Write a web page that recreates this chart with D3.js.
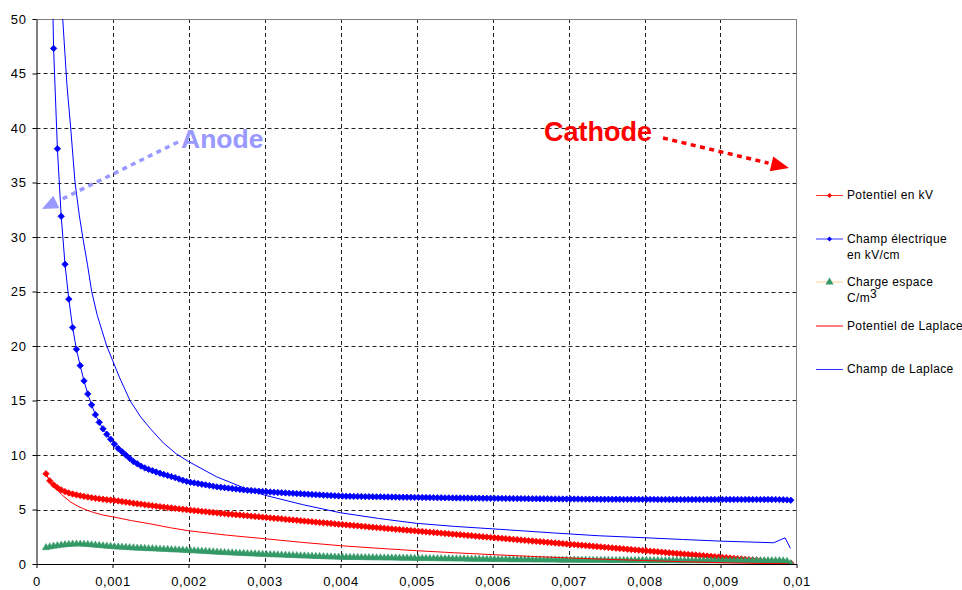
<!DOCTYPE html>
<html>
<head>
<meta charset="utf-8">
<script src="https://cdn.jsdelivr.net/npm/d3@7"></script>
<style>
  html, body { margin: 0; padding: 0; background: #ffffff; }
  svg { display: block; font-family: "Liberation Sans", Arial, sans-serif; }
</style>
</head>
<body>
<svg id="chart" width="962" height="590"></svg>
<script>
// ---------------- DATA ----------------
const positions = [
  0.000125,0.000175,0.000225,0.000275,0.000325,0.000375,0.000425,0.000475,0.000525,0.000575,
  0.000625,0.000675,0.000725,0.000775,0.000825,0.000875,0.000925,0.000975,0.001025,0.001075,
  0.001125,0.001175,0.001225,0.001275,0.001325,0.001375,0.001425,0.001475,0.001525,0.001575,
  0.001625,0.001675,0.001725,0.001775,0.001825,0.001875,0.001925,0.001975,0.002025,0.002075,
  0.002125,0.002175,0.002225,0.002275,0.002325,0.002375,0.002425,0.002475,0.002525,0.002575,
  0.002625,0.002675,0.002725,0.002775,0.002825,0.002875,0.002925,0.002975,0.003025,0.003075,
  0.003125,0.003175,0.003225,0.003275,0.003325,0.003375,0.003425,0.003475,0.003525,0.003575,
  0.003625,0.003675,0.003725,0.003775,0.003825,0.003875,0.003925,0.003975,0.004025,0.004075,
  0.004125,0.004175,0.004225,0.004275,0.004325,0.004375,0.004425,0.004475,0.004525,0.004575,
  0.004625,0.004675,0.004725,0.004775,0.004825,0.004875,0.004925,0.004975,0.005025,0.005075,
  0.005125,0.005175,0.005225,0.005275,0.005325,0.005375,0.005425,0.005475,0.005525,0.005575,
  0.005625,0.005675,0.005725,0.005775,0.005825,0.005875,0.005925,0.005975,0.006025,0.006075,
  0.006125,0.006175,0.006225,0.006275,0.006325,0.006375,0.006425,0.006475,0.006525,0.006575,
  0.006625,0.006675,0.006725,0.006775,0.006825,0.006875,0.006925,0.006975,0.007025,0.007075,
  0.007125,0.007175,0.007225,0.007275,0.007325,0.007375,0.007425,0.007475,0.007525,0.007575,
  0.007625,0.007675,0.007725,0.007775,0.007825,0.007875,0.007925,0.007975,0.008025,0.008075,
  0.008125,0.008175,0.008225,0.008275,0.008325,0.008375,0.008425,0.008475,0.008525,0.008575,
  0.008625,0.008675,0.008725,0.008775,0.008825,0.008875,0.008925,0.008975,0.009025,0.009075,
  0.009125,0.009175,0.009225,0.009275,0.009325,0.009375,0.009425,0.009475,0.009525,0.009575,
  0.009625,0.009675,0.009725,0.009775,0.009825,0.009875,0.009925
];

const potentielKV = [
  8.28,7.63,7.26,7.0,6.8,6.64,6.52,6.42,6.34,6.27,6.2,6.14,6.08,6.03,5.98,5.94,5.9,5.87,
  5.83,5.78,5.73,5.68,5.63,5.58,5.53,5.49,5.44,5.40,5.35,5.31,5.26,5.22,5.18,5.14,5.10,5.06,5.02,4.98,4.94,
  4.9,4.87,4.83,4.8,4.76,4.73,4.69,4.66,4.62,4.59,4.56,4.52,4.49,4.46,4.43,4.39,4.36,4.33,4.3,4.27,
  4.23,4.2,4.17,4.14,4.1,4.07,4.04,4.01,3.97,3.94,3.91,3.88,3.84,3.81,3.78,3.75,3.72,3.68,3.65,3.62,
  3.59,3.56,3.53,3.5,3.47,3.44,3.4,3.37,3.34,3.31,3.28,3.25,3.22,3.19,3.16,3.13,3.1,3.07,3.04,3.01,
  2.98,2.95,2.92,2.89,2.86,2.83,2.8,2.77,2.74,2.71,2.68,2.65,2.62,2.59,2.56,2.53,2.5,2.47,2.44,2.41,
  2.38,2.35,2.32,2.29,2.26,2.23,2.2,2.17,2.14,2.11,2.08,2.05,2.02,1.99,1.96,1.93,1.9,1.87,1.84,1.81,
  1.78,1.75,1.72,1.69,1.66,1.63,1.60,1.57,1.54,1.51,1.48,1.45,1.42,1.39,1.36,1.33,1.30,1.27,1.24,1.21,
  1.18,1.15,1.12,1.09,1.06,1.03,1.00,0.97,0.94,0.91,0.88,0.85,0.82,0.79,0.76,0.73,0.70,0.67,0.64,0.61,
  0.58,0.55,0.52,0.49,0.46,0.43,0.40,0.37,0.34,0.31,0.28,0.25,0.22,0.19,0.16,0.13,0.10,0.07
];

const champKVcm = [
  95,66,47.3,38.1,31.9,27.5,24.3,21.7,19.7,18.2,16.8,15.6,14.6,13.7,13.0,12.4,11.9,11.45,
  11.0,10.6,10.3,10.0,9.7,9.4,9.2,8.98,8.82,8.68,8.56,8.44,8.33,8.22,8.12,8.02,7.92,7.8,7.68,7.58,7.5,
  7.44,7.38,7.32,7.26,7.2,7.14,7.08,7.04,7.0,6.96,6.92,6.88,6.84,6.8,6.77,6.74,6.71,6.68,6.65,6.62,
  6.6,6.58,6.56,6.54,6.52,6.5,6.48,6.46,6.44,6.42,6.4,6.38,6.36,6.34,6.32,6.3,6.28,6.26,6.24,6.23,
  6.22,6.21,6.2,6.2,6.19,6.18,6.18,6.17,6.16,6.16,6.15,6.15,6.14,6.14,6.13,6.13,6.12,6.12,6.11,6.11,
  6.1,6.1,6.09,6.09,6.08,6.08,6.07,6.07,6.06,6.06,6.05,6.05,6.05,6.04,6.04,6.04,6.03,6.03,6.03,6.02,
  6.02,6.02,6.01,6.01,6.01,6.0,6.0,6.0,5.99,5.99,5.99,5.98,5.98,5.98,5.97,5.97,5.97,5.96,5.96,5.96,
  5.96,5.96,5.95,5.95,5.95,5.95,5.95,5.94,5.94,5.94,5.94,5.94,5.94,5.93,5.93,5.93,5.93,5.93,5.93,5.93,
  5.93,5.93,5.92,5.92,5.92,5.92,5.92,5.92,5.92,5.92,5.92,5.92,5.92,5.92,5.92,5.92,5.92,5.92,5.92,5.92,
  5.92,5.92,5.92,5.92,5.92,5.92,5.92,5.92,5.92,5.92,5.92,5.92,5.92,5.92,5.91,5.9,5.88,5.85
];

const chargeEspace = [
  1.55,1.62,1.68,1.73,1.78,1.82,1.85,1.87,1.88,1.88,1.86,1.84,1.81,1.78,1.75,1.72,1.69,1.66,1.63,1.61,1.59,
  1.57,1.55,1.53,1.51,1.5,1.48,1.46,1.45,1.43,1.41,1.4,1.38,1.36,1.35,1.33,1.31,1.3,1.28,
  1.26,1.24,1.22,1.2,1.18,1.16,1.14,1.12,1.1,1.08,1.07,1.05,1.03,1.02,1.0,0.98,0.97,0.95,0.94,0.92,
  0.91,0.9,0.88,0.87,0.86,0.84,0.83,0.82,0.8,0.79,0.78,0.76,0.75,0.74,0.72,0.71,0.7,0.69,0.68,0.67,
  0.66,0.66,0.65,0.65,0.64,0.64,0.63,0.63,0.62,0.62,0.61,0.61,0.6,0.6,0.59,0.59,0.58,0.58,0.57,0.57,
  0.56,0.56,0.55,0.55,0.54,0.54,0.53,0.53,0.52,0.52,0.51,0.51,0.5,0.5,0.49,0.49,0.48,0.48,0.47,0.47,
  0.46,0.46,0.46,0.45,0.45,0.45,0.44,0.44,0.44,0.43,0.43,0.43,0.42,0.42,0.42,0.42,0.41,0.41,0.41,0.41,
  0.4,0.4,0.4,0.4,0.39,0.39,0.39,0.39,0.39,0.38,0.38,0.38,0.38,0.38,0.37,0.37,0.37,0.37,0.37,0.37,
  0.36,0.36,0.36,0.36,0.36,0.36,0.36,0.35,0.35,0.35,0.35,0.35,0.35,0.35,0.35,0.35,0.35,0.35,0.35,0.35,
  0.35,0.35,0.35,0.35,0.35,0.35,0.35,0.35,0.35,0.35,0.35,0.35,0.35,0.35,0.35,0.34,0.3,0.08
];

const laplacePotX = [0.000125,0.000175,0.00025,0.00035,0.00045,0.00055,0.00065,0.00075,0.00087,0.001,
  0.00125,0.0015,0.00175,0.002,0.0025,0.003,0.0035,0.004,0.0045,0.005,0.0055,0.006,0.0065,0.007,
  0.0075,0.008,0.0085,0.009,0.0095,0.0099];
const laplacePot = [8.28,7.55,6.95,6.25,5.68,5.28,4.97,4.73,4.5,4.33,
  3.98,3.68,3.34,3.05,2.65,2.32,1.98,1.68,1.44,1.22,1.03,0.86,0.7,0.56,
  0.43,0.32,0.21,0.12,0.05,0.0];

const laplaceChampX = [0.00025,0.0003,0.000345,0.0004,0.00045,0.000507,0.000563,0.000608,0.00067,0.000726,
  0.0008,0.000924,0.001,0.00109,0.00123,0.00137,0.0015,0.00167,0.00184,0.002,0.00237,0.0028,0.003,0.0035,0.004,0.0045,
  0.005,0.0055,0.0061,0.0068,0.0074,0.008,0.0085,0.009,0.0097,0.00985,0.00992];
const laplaceChamp = [70,58,50,44,40,35,32,30,27.5,25,
  22.8,20,18.7,17.15,15.0,13.5,12.4,11.1,10.1,9.4,8.0,6.78,6.32,5.45,4.7,4.18,
  3.73,3.45,3.18,2.85,2.59,2.41,2.25,2.1,1.95,2.4,1.44];

const xTickValues = [0,0.001,0.002,0.003,0.004,0.005,0.006,0.007,0.008,0.009,0.01];
const xTickLabels = ["0","0,001","0,002","0,003","0,004","0,005","0,006","0,007","0,008","0,009","0,01"];
const yTickValues = [0,5,10,15,20,25,30,35,40,45,50];
const yTickLabels = ["0","5","10","15","20","25","30","35","40","45","50"];

const legendLabels = [
  ["Potentiel en kV"],
  ["Champ électrique", "en kV/cm"],
  ["Charge espace", "C/m"],
  ["Potentiel de Laplace"],
  ["Champ de Laplace"]
];

// ---------------- CHART ----------------
const svg = d3.select("#chart");
const X0 = 36.5, X1 = 796.5, Y0 = 564, Y1 = 19;
const x = d3.scaleLinear().domain([0, 0.01]).range([X0, X1]);
const y = d3.scaleLinear().domain([0, 50]).range([Y0, Y1]);

svg.append("rect").attr("width", 962).attr("height", 590).attr("fill", "#fff");

svg.append("defs").append("clipPath").attr("id", "plotclip")
  .append("rect").attr("x", X0).attr("y", Y1).attr("width", X1 - X0).attr("height", Y0 - Y1);

// grid
const grid = svg.append("g");
grid.selectAll("line.v").data(xTickValues.slice(1, -1)).join("line")
  .attr("x1", d => Math.round(x(d)) + 0.5).attr("x2", d => Math.round(x(d)) + 0.5)
  .attr("y1", Y1).attr("y2", Y0)
  .attr("stroke", "#222").attr("stroke-width", 1).attr("stroke-dasharray", "4,3");
grid.selectAll("line.h").data(yTickValues.slice(1, -1)).join("line")
  .attr("y1", d => Math.round(y(d)) + 0.5).attr("y2", d => Math.round(y(d)) + 0.5)
  .attr("x1", X0).attr("x2", X1)
  .attr("stroke", "#222").attr("stroke-width", 1).attr("stroke-dasharray", "4,3");
grid.append("line").attr("x1", X0).attr("x2", X1).attr("y1", Y1 + 0.5).attr("y2", Y1 + 0.5)
  .attr("stroke", "#808080");
grid.append("line").attr("x1", X1).attr("x2", X1).attr("y1", Y1).attr("y2", Y0)
  .attr("stroke", "#808080");

// axes
const yAxis = d3.axisLeft(y).tickValues(yTickValues)
  .tickFormat((d, i) => yTickLabels[i]).tickSize(4).tickSizeOuter(0).tickPadding(6);
const gy = svg.append("g").attr("transform", `translate(${X0},0)`).call(yAxis);
const xAxis = d3.axisBottom(x).tickValues(xTickValues)
  .tickFormat((d, i) => xTickLabels[i]).tickSize(4).tickSizeOuter(0).tickPadding(9);
const gx = svg.append("g").attr("transform", `translate(0,${Y0})`).call(xAxis);
[gx, gy].forEach(g => {
  g.select(".domain").attr("stroke", "#000");
  g.selectAll(".tick line").attr("stroke", "#000");
  g.selectAll(".tick text").attr("fill", "#000")
    .style("font-family", '"Liberation Sans", Arial, sans-serif')
    .style("font-size", "13px").style("letter-spacing", "0.6px");
});

// series
const plot = svg.append("g").attr("clip-path", "url(#plotclip)");
const lineGen = (xs, ys) => d3.line().x((d, i) => x(xs[i])).y(d => y(d))(ys);

const diamond = "M0,-3.2L3.2,0L0,3.2L-3.2,0Z";
const triangle = "M0,-3.6L3.6,2.6L-3.6,2.6Z";

// Potentiel en kV
plot.append("path").attr("d", lineGen(positions, potentielKV))
  .attr("fill", "none").attr("stroke", "#ff0000").attr("stroke-width", 1);
plot.append("g").selectAll("path").data(potentielKV).join("path")
  .attr("d", diamond).attr("transform", (d, i) => `translate(${x(positions[i])},${y(d)})`)
  .attr("fill", "#ff0000").attr("stroke", "#ff0000").attr("stroke-width", 0.8);

// Champ électrique
plot.append("path").attr("d", lineGen(positions, champKVcm))
  .attr("fill", "none").attr("stroke", "#0000ff").attr("stroke-width", 1);
plot.append("g").selectAll("path").data(champKVcm).join("path")
  .attr("d", diamond).attr("transform", (d, i) => `translate(${x(positions[i])},${y(d)})`)
  .attr("fill", "#0000ff").attr("stroke", "#0000ff").attr("stroke-width", 0.8);

// Charge espace
plot.append("path").attr("d", lineGen(positions, chargeEspace))
  .attr("fill", "none").attr("stroke", "#ffcc99").attr("stroke-width", 1);
plot.append("g").selectAll("path").data(chargeEspace).join("path")
  .attr("d", triangle).attr("transform", (d, i) => `translate(${x(positions[i])},${y(d)})`)
  .attr("fill", "#339966").attr("stroke", "#339966").attr("stroke-width", 0.5);

// Potentiel de Laplace
plot.append("path").attr("d", lineGen(laplacePotX, laplacePot))
  .attr("fill", "none").attr("stroke", "#ff0000").attr("stroke-width", 1);

// Champ de Laplace
plot.append("path").attr("d", lineGen(laplaceChampX, laplaceChamp))
  .attr("fill", "none").attr("stroke", "#0000ff").attr("stroke-width", 1);

// legend
const legend = svg.append("g").style("font-family", '"Liberation Sans", Arial, sans-serif')
  .style("font-size", "12px").style("letter-spacing", "0.37px");
const legendY = [195, 238.5, 281.5, 325.5, 369];
const legendStroke = ["#ff3333", "#3333ff", "#ffcc99", "#ff0000", "#3333ff"];
legendLabels.forEach((lines, i) => {
  const g = legend.append("g").attr("transform", `translate(0,${legendY[i]})`);
  g.append("line").attr("x1", 816).attr("x2", 843).attr("y1", 0.5).attr("y2", 0.5)
    .attr("stroke", legendStroke[i]).attr("stroke-width", 1);
  if (i === 0) g.append("path").attr("d", "M0,-2.5L2.5,0L0,2.5L-2.5,0Z").attr("transform", "translate(829.5,0.5)").attr("fill", "#ff0000");
  if (i === 1) g.append("path").attr("d", "M0,-2.5L2.5,0L0,2.5L-2.5,0Z").attr("transform", "translate(829.5,0.5)").attr("fill", "#0000ff");
  if (i === 2) g.append("path").attr("d", "M0,-4L4,3L-4,3Z").attr("transform", "translate(829.5,0)").attr("fill", "#339966");
  lines.forEach((t, j) => {
    const txt = g.append("text").attr("x", 847).attr("y", j * 16.5).attr("dy", "0.35em").attr("fill", "#000").text(t);
    if (i === 2 && j === 1) txt.append("tspan").attr("dy", "-4").text("3");
  });
});

// annotations
const ann = svg.append("g").style("font-family", '"Liberation Sans", Arial, sans-serif').style("font-weight", "bold");
ann.append("text").attr("x", 181).attr("y", 147.5).attr("fill", "#9999ff").style("font-size", "26.5px").text("Anode");
ann.append("text").attr("x", 544).attr("y", 140.5).attr("fill", "#ff0000").style("font-size", "27px").text("Cathode");

function dottedArrow(p0, tip, color, headLen, headHalf) {
  const dx = tip[0] - p0[0], dy = tip[1] - p0[1];
  const L = Math.hypot(dx, dy), ux = dx / L, uy = dy / L;
  const bx = tip[0] - ux * headLen, by = tip[1] - uy * headLen;
  ann.append("line").attr("x1", p0[0]).attr("y1", p0[1])
    .attr("x2", bx - ux * 3).attr("y2", by - uy * 3)
    .attr("stroke", color).attr("stroke-width", 3.5).attr("stroke-dasharray", "5,4.5");
  ann.append("path")
    .attr("d", `M${tip[0]},${tip[1]}L${bx - uy * headHalf},${by + ux * headHalf}L${bx + uy * headHalf},${by - ux * headHalf}Z`)
    .attr("fill", color);
}
dottedArrow([178, 142], [42, 209], "#9999ff", 16, 7);
dottedArrow([663, 138], [789, 168], "#ff0000", 18, 7.5);
</script>
</body>
</html>
